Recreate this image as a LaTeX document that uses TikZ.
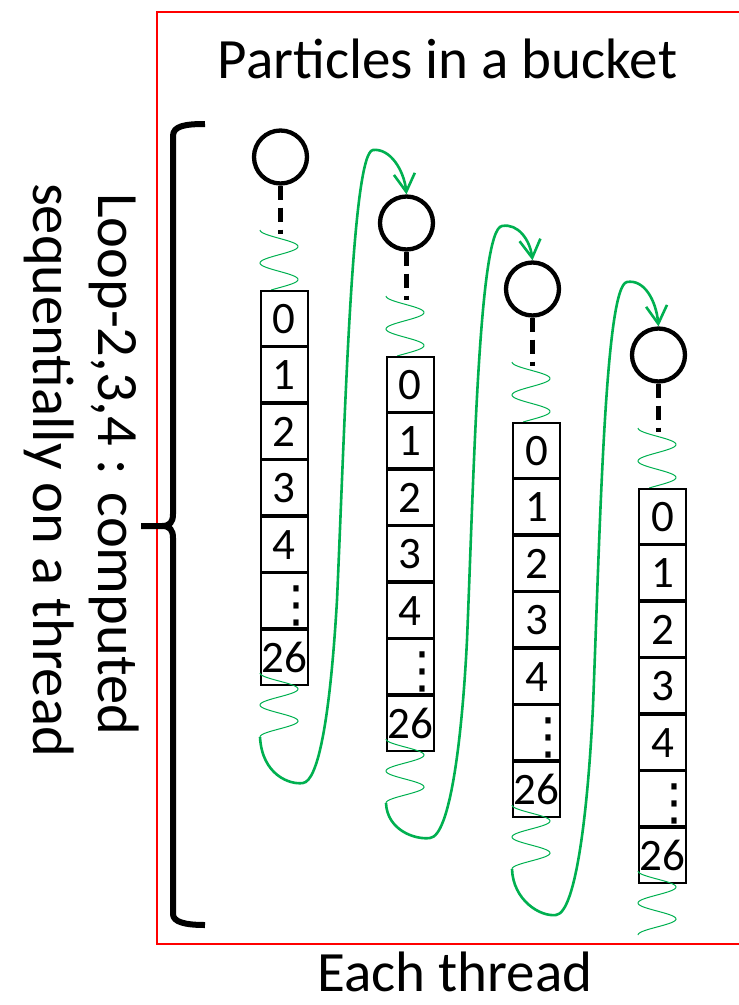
\documentclass[tikz,border=0pt]{standalone}
\usepackage{fontspec}
\setmainfont{Carlito}
\newfontfamily\dejavu{DejaVu Sans}
\usetikzlibrary{arrows.meta}
\definecolor{tgreen}{RGB}{0,176,80}
\begin{document}
\begin{tikzpicture}[x=1pt,y=-1pt,
  frame/.style={draw=red,line width=2pt},
  brace/.style={line width=6pt,line join=round},
  particle/.style={circle,draw,line width=4.3pt,minimum size=53pt,inner sep=0pt},
  stem/.style={line width=4.5pt,dash pattern=on 14pt off 8pt},
  wave/.style={draw=tgreen,line width=1pt},
  flow/.style={draw=tgreen,line width=2.6pt,-{Straight Barb[length=18pt,width=21pt]}},
  cell/.style={draw,line width=1.8pt,minimum width=47pt,minimum height=54.7pt,inner sep=0pt,
    text height=30pt,text depth=0pt,font=\fontsize{45}{45}\selectfont},
  dotsym/.style={inner sep=0pt,font=\dejavu\fontsize{50}{50}\selectfont},
  bigtext/.style={inner sep=0pt,font=\fontsize{57}{57}\selectfont},
  sidetext/.style={inner sep=0pt,rotate=-90,anchor=base,font=\fontsize{58.5}{58.5}\selectfont}]
\useasboundingbox (0,0) rectangle (739,1005);
% frame (right side lies beyond the page)
\draw[frame] (157,12) rectangle (760,944);
% texts
\node[bigtext,anchor=base] (title) at (447.5,78) {Particles in a bucket};
\node[bigtext,anchor=base] (foot) at (455,991) {Each thread};
\node[sidetext] (loopA) at (98,464) {Loop-2,3,4 : computed};
\node[sidetext] (loopB) at (34,470) {sequentially on a thread};
% brace
\draw[brace] (205,124) .. controls (185,124) and (173,126) .. (173,136) -- (173,514)
  .. controls (173,522) and (170,526) .. (162,526) -- (141,526);
\draw[brace] (162,526) .. controls (170,526) and (173,530) .. (173,538) -- (173,914)
  .. controls (173,922) and (185,925) .. (205,925);
% columns
\foreach \i in {0,...,3}{
  \pgfmathsetmacro\bxL{260+126*\i}
  \pgfmathsetmacro\byT{290+66*\i}
  \pgfmathsetmacro\axX{\bxL+20.5}
  \pgfmathsetmacro\cyY{157+66*\i}
  \node[particle] (p\i) at (\axX,\cyY) {};
  \coordinate (s\i) at (\axX,\cyY+77);
  \draw[stem] (p\i.south) -- (s\i);
  \draw[wave] plot[domain=0:60,samples=90,smooth] ({\bxL+19-19*cos(\x*10.909)},{\cyY+73+\x});
  \node[cell,anchor=north west] (b\i-0) at (\bxL,\byT) {0};
  \node[cell,anchor=north] (b\i-1) at (b\i-0.south) {1};
  \node[cell,anchor=north] (b\i-2) at (b\i-1.south) {2};
  \node[cell,anchor=north] (b\i-3) at (b\i-2.south) {3};
  \node[cell,anchor=north] (b\i-4) at (b\i-3.south) {4};
  \node[cell,anchor=north] (b\i-5) at (b\i-4.south) {};
  \node[dotsym] (d\i) at ([shift={(36,33)}]b\i-5.north west) {⋮};
  \node[cell,anchor=north] (b\i-6) at (b\i-5.south) {26};
  \draw[wave] plot[domain=0:64,samples=90,smooth] ({\bxL+19-19*cos(\x*11.25)},{\byT+383+\x});
  \coordinate (we\i) at (\bxL,\byT+447);
}
% green flow arrows
\draw[flow] (we0) .. controls (262,775) and (290,785) .. (303,783)
  .. controls (318,781) and (330,720) .. (337,600)
  .. controls (345,420) and (352,152) .. (373,150)
  .. controls (390,148) and (404,170) .. (p1.north);
\draw[flow] (we1) .. controls (387,830) and (415,840) .. (430,838)
  .. controls (450,836) and (462,740) .. (467,640)
  .. controls (474,470) and (479,229) .. (502,226)
  .. controls (518,223) and (530,240) .. (p2.north);
\draw[flow] (we2) .. controls (513,900) and (540,917) .. (556,915)
  .. controls (576,913) and (588,810) .. (593,706)
  .. controls (600,530) and (605,285) .. (627,282)
  .. controls (644,279) and (656,300) .. (p3.north);
\end{tikzpicture}
\end{document}
